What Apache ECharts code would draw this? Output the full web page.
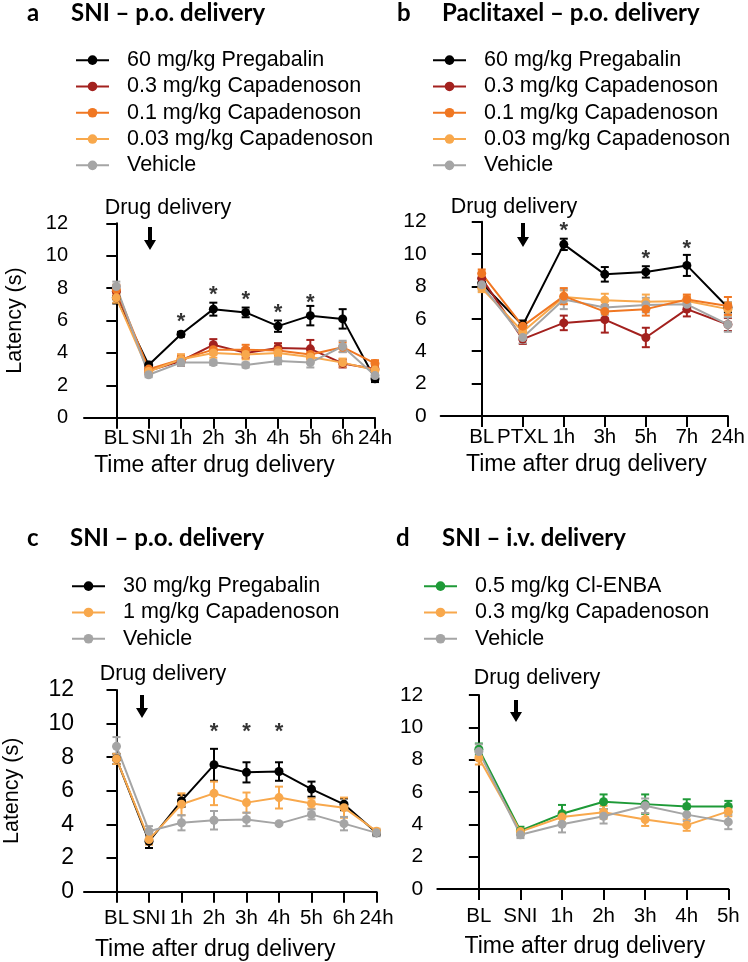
<!DOCTYPE html>
<html><head><meta charset="utf-8">
<script src="https://cdn.jsdelivr.net/npm/echarts@6/dist/echarts.min.js"></script>
<style>html,body{margin:0;padding:0;background:#fff}#c{width:748px;height:962px}</style>
</head><body><div id="c"></div>
<script>
// ---------- data ----------
const catsA = ['BL','SNI','1h','2h','3h','4h','5h','6h','24h'];
const aPreg60 = [7.4, 3.25, 5.15, 6.7, 6.5, 5.65, 6.3, 6.1, 2.4];
const aPreg60Err = [0.35, 0.2, 0.15, 0.4, 0.3, 0.35, 0.6, 0.6, 0.2];
const aCap03 = [7.8, 2.9, 3.5, 4.5, 4.0, 4.3, 4.25, 3.35, 3.0];
const aCap03Err = [0.3, 0.2, 0.3, 0.35, 0.3, 0.3, 0.55, 0.25, 0.2];
const aCap01 = [7.9, 3.0, 3.6, 4.2, 4.2, 4.15, 3.9, 4.35, 3.35];
const aCap01Err = [0.3, 0.2, 0.3, 0.3, 0.3, 0.3, 0.3, 0.3, 0.2];
const aCap003 = [7.4, 2.85, 3.6, 4.0, 3.9, 4.0, 3.75, 3.4, 2.95];
const aCap003Err = [0.3, 0.2, 0.3, 0.3, 0.3, 0.25, 0.3, 0.25, 0.2];
const aVeh = [8.1, 2.65, 3.4, 3.4, 3.25, 3.5, 3.4, 4.4, 2.6];
const aVehErr = [0.3, 0.15, 0.2, 0.15, 0.15, 0.2, 0.3, 0.35, 0.2];
const aStars = [null, null, 6.2, 7.9, 7.55, 6.75, 7.4, null, null];

const catsB = ['BL','PTXL','1h','3h','5h','7h','24h'];
const bPreg60 = [8.2, 5.6, 10.6, 8.75, 8.9, 9.3, 6.7];
const bPreg60Err = [0.3, 0.3, 0.35, 0.45, 0.35, 0.65, 0.3];
const bCap03 = [8.5, 4.75, 5.75, 5.95, 4.85, 6.6, 5.65];
const bCap03Err = [0.3, 0.3, 0.45, 0.8, 0.6, 0.45, 0.4];
const bCap01 = [8.8, 5.55, 7.4, 6.45, 6.6, 7.2, 6.8];
const bCap01Err = [0.25, 0.25, 0.5, 0.4, 0.4, 0.3, 0.55];
const bCap003 = [7.9, 5.2, 7.35, 7.15, 7.05, 7.1, 6.6];
const bCap003Err = [0.25, 0.3, 0.4, 0.4, 0.45, 0.3, 0.4];
const bVeh = [8.1, 4.85, 7.2, 6.7, 6.85, 6.9, 5.65];
const bVehErr = [0.35, 0.35, 0.6, 0.45, 0.45, 0.35, 0.45];
const bStars = [null, null, 11.75, null, 10.0, 10.65, null];

const catsC = ['BL','SNI','1h','2h','3h','4h','5h','6h','24h'];
const cPreg30 = [7.9, 3.0, 5.4, 7.55, 7.1, 7.15, 6.1, 5.2, 3.5];
const cPreg30Err = [0.3, 0.4, 0.35, 0.95, 0.6, 0.55, 0.45, 0.35, 0.15];
const cCap1 = [7.9, 3.1, 5.2, 5.85, 5.3, 5.6, 5.25, 5.0, 3.6];
const cCap1Err = [0.3, 0.3, 0.65, 0.7, 0.6, 0.65, 0.3, 0.6, 0.15];
const cVeh = [8.65, 3.6, 4.1, 4.25, 4.3, 4.05, 4.6, 4.05, 3.5];
const cVehErr = [0.55, 0.3, 0.45, 0.55, 0.4, 0.05, 0.3, 0.4, 0.2];
const cStars = [null, null, null, 9.8, 9.8, 9.8, null, null, null];

const catsD = ['BL','SNI','1h','2h','3h','4h','5h'];
const dEnba = [8.65, 3.6, 4.65, 5.4, 5.25, 5.1, 5.1];
const dEnbaErr = [0.35, 0.25, 0.55, 0.45, 0.6, 0.45, 0.35];
const dCap03 = [8.1, 3.55, 4.45, 4.75, 4.3, 3.95, 4.8];
const dCap03Err = [0.4, 0.2, 0.35, 0.4, 0.4, 0.35, 0.3];
const dVeh = [8.5, 3.35, 4.0, 4.5, 5.15, 4.6, 4.15];
const dVehErr = [0.45, 0.2, 0.5, 0.45, 0.45, 0.4, 0.45];

const yTicks = [0, 2, 4, 6, 8, 10, 12];

// ---------- styles ----------
const C = { black:'#000000', red:'#A3211E', orange:'#F07722', lorange:'#F8A84C', grey:'#A5A5A5', green:'#1E9A37' };
const FONT = '"Liberation Sans", Arial, sans-serif';
const TFONT = 'Lato, "Open Sans", sans-serif';

const grids = [
  {left:84, top:223.3, width:291, height:194.4},
  {left:440.7, top:221.7, width:290, height:194.3},
  {left:75, top:690, width:301.5, height:201.7},
  {left:437.3, top:695, width:291, height:194}
];
const panelCats = [catsA, catsB, catsC, catsD];
// per-panel label layout [xLabelMargin, xNameGap, xNamePadRight, yLabelSize, yLabelMargin]
const lay = [
  [10, 36, 30, 20, 16],
  [11, 37, -4, 21, 14],
  [16, 46, 30, 23, 10],
  [17, 46, -4, 21, 14]
];

const xAxes = panelCats.map((cats, gi) => {
  const idx = cats.map((_, i) => i);
  return {
    type:'value', gridIndex:gi, min:-1, max:cats.length - 1, interval:1,
    splitLine:{show:false},
    axisLine:{show:true, lineStyle:{color:'#000', width:2}},
    axisTick:{show:true, customValues:idx, length:11, lineStyle:{color:'#000', width:2}},
    axisLabel:{customValues:idx, formatter:v => cats[v], color:'#000', fontSize:20.5, fontFamily:FONT, margin:lay[gi][0]},
    name:'Time after drug delivery', nameLocation:'middle', nameGap:lay[gi][1],
    nameTextStyle:{color:'#000', fontSize:23, fontFamily:FONT, padding:[0, lay[gi][2], 0, 0]}
  };
});
const yAxes = grids.map((g, gi) => ({
  type:'value', gridIndex:gi, min:0, max:12, interval:2,
  splitLine:{show:false},
  axisLine:{show:true, lineStyle:{color:'#000', width:2}},
  axisTick:{show:true, length:10, lineStyle:{color:'#000', width:2}},
  axisLabel:{color:'#000', fontSize:lay[gi][3], fontFamily:FONT, margin:lay[gi][4], formatter:v => yTicks.includes(v) ? String(v) : ''},
  name:(gi===0||gi===2) ? 'Latency (s)' : '', nameLocation:'middle', nameGap:(gi===0?58:61), nameRotate:90,
  nameTextStyle:{color:'#000', fontSize:21.5, fontFamily:FONT}
}));

const series = [];
function addSeries(gi, name, vals, errs, color) {
  series.push({
    type:'custom', xAxisIndex:gi, yAxisIndex:gi, silent:true,
    data: vals.map((v, i) => [i, v - errs[i], v + errs[i]]),
    encode:{x:0, y:[1, 2]},
    renderItem:(params, api) => {
      const x = api.value(0);
      const lo = api.coord([x, api.value(1)]);
      const hi = api.coord([x, api.value(2)]);
      const w = 4, st = {stroke:color, lineWidth:2};
      return {type:'group', children:[
        {type:'line', shape:{x1:lo[0], y1:lo[1], x2:hi[0], y2:hi[1]}, style:st},
        {type:'line', shape:{x1:lo[0]-w, y1:lo[1], x2:lo[0]+w, y2:lo[1]}, style:st},
        {type:'line', shape:{x1:hi[0]-w, y1:hi[1], x2:hi[0]+w, y2:hi[1]}, style:st}
      ]};
    }
  });
  series.push({
    type:'line', name, xAxisIndex:gi, yAxisIndex:gi,
    data: vals.map((v, i) => [i, v]),
    symbol:'circle', symbolSize:9, showSymbol:true,
    lineStyle:{color, width:2}, itemStyle:{color},
    emphasis:{disabled:true}, animation:false
  });
}
function addStars(gi, stars) {
  series.push({
    type:'scatter', xAxisIndex:gi, yAxisIndex:gi, silent:true,
    data: stars.map((v, i) => v == null ? null : [i, v]).filter(d => d),
    symbolSize:2, itemStyle:{color:'rgba(0,0,0,0)'},
    label:{show:true, formatter:'*', position:'inside', color:'#000', fontSize:22, fontWeight:'bold', fontFamily:FONT, offset:[0, 5]}
  });
}

addSeries(0, '60 mg/kg Pregabalin', aPreg60, aPreg60Err, C.black);
addSeries(0, '0.3 mg/kg Capadenoson', aCap03, aCap03Err, C.red);
addSeries(0, '0.1 mg/kg Capadenoson', aCap01, aCap01Err, C.orange);
addSeries(0, '0.03 mg/kg Capadenoson', aCap003, aCap003Err, C.lorange);
addSeries(0, 'Vehicle', aVeh, aVehErr, C.grey);
addStars(0, aStars);

addSeries(1, '60 mg/kg Pregabalin', bPreg60, bPreg60Err, C.black);
addSeries(1, '0.3 mg/kg Capadenoson', bCap03, bCap03Err, C.red);
addSeries(1, '0.03 mg/kg Capadenoson', bCap003, bCap003Err, C.lorange);
addSeries(1, 'Vehicle', bVeh, bVehErr, C.grey);
addSeries(1, '0.1 mg/kg Capadenoson', bCap01, bCap01Err, C.orange);
addStars(1, bStars);

addSeries(2, '30 mg/kg Pregabalin', cPreg30, cPreg30Err, C.black);
addSeries(2, '1 mg/kg Capadenoson', cCap1, cCap1Err, C.lorange);
addSeries(2, 'Vehicle', cVeh, cVehErr, C.grey);
addStars(2, cStars);

addSeries(3, '0.5 mg/kg Cl-ENBA', dEnba, dEnbaErr, C.green);
addSeries(3, '0.3 mg/kg Capadenoson', dCap03, dCap03Err, C.lorange);
addSeries(3, 'Vehicle', dVeh, dVehErr, C.grey);

function legend(left, top, items) {
  return {
    left, top, orient:'vertical', selectedMode:false, itemWidth:33, itemHeight:12, itemGap:0,
    textStyle:{color:'#000', fontSize:21.5, fontFamily:FONT, lineHeight:26.3, padding:[0, 0, 0, 13]},
    data: items.map(([name, color]) => ({name, itemStyle:{color}, lineStyle:{color, width:2}}))
  };
}
const legends = [
  legend(70, 42, [['60 mg/kg Pregabalin', C.black], ['0.3 mg/kg Capadenoson', C.red], ['0.1 mg/kg Capadenoson', C.orange], ['0.03 mg/kg Capadenoson', C.lorange], ['Vehicle', C.grey]]),
  legend(427, 42, [['60 mg/kg Pregabalin', C.black], ['0.3 mg/kg Capadenoson', C.red], ['0.1 mg/kg Capadenoson', C.orange], ['0.03 mg/kg Capadenoson', C.lorange], ['Vehicle', C.grey]]),
  legend(66, 568, [['30 mg/kg Pregabalin', C.black], ['1 mg/kg Capadenoson', C.lorange], ['Vehicle', C.grey]]),
  legend(418, 568, [['0.5 mg/kg Cl-ENBA', C.green], ['0.3 mg/kg Capadenoson', C.lorange], ['Vehicle', C.grey]])
];

function arrow(x, top, bottom) {
  const h = 10, hw = 6, sw = 2;
  return {type:'polygon', shape:{points:[[x-sw, top], [x+sw, top], [x+sw, bottom-h], [x+hw, bottom-h], [x, bottom], [x-hw, bottom-h], [x-sw, bottom-h]]}, style:{fill:'#000'}, silent:true};
}
function txt(x, y, text, size, bold, align, font) {
  return {type:'text', x, y, silent:true, style:{text, fill:'#000', fontSize:size, fontWeight:bold ? 'bold' : 'normal', fontFamily:font || FONT, align:align || 'left', verticalAlign:'middle'}};
}
const graphics = [
  txt(27, 13, 'a', 24, true, 'left', TFONT), txt(71, 13, 'SNI – p.o. delivery', 24, true, 'left', TFONT),
  txt(397, 13, 'b', 24, true, 'left', TFONT), txt(442, 13, 'Paclitaxel – p.o. delivery', 24, true, 'left', TFONT),
  txt(27, 538, 'c', 24, true, 'left', TFONT), txt(70, 538, 'SNI – p.o. delivery', 24, true, 'left', TFONT),
  txt(396, 538, 'd', 24, true, 'left', TFONT), txt(442, 538, 'SNI – i.v. delivery', 24, true, 'left', TFONT),
  txt(168, 208, 'Drug delivery', 21.5, false, 'center'),
  txt(514, 207, 'Drug delivery', 21.5, false, 'center'),
  txt(163, 674, 'Drug delivery', 21.5, false, 'center'),
  txt(537, 678, 'Drug delivery', 21.5, false, 'center'),
  arrow(150, 227, 250), arrow(523, 223, 247), arrow(142, 695, 718), arrow(516, 700, 722)
];

const chart = echarts.init(document.getElementById('c'), null, {renderer:'canvas'});
chart.setOption({
  animation:false, backgroundColor:'#fff',
  grid:grids, xAxis:xAxes, yAxis:yAxes, legend:legends, series, graphic:graphics
});
</script></body></html>
